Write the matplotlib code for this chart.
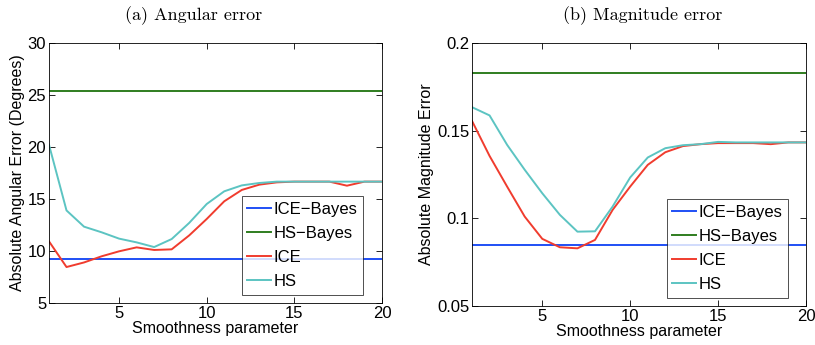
import numpy as np
import matplotlib
matplotlib.use('Agg')
import matplotlib.pyplot as plt

plt.rcParams['font.family'] = ['Liberation Sans', 'DejaVu Sans']
plt.rcParams['font.size'] = 12

smooth = list(range(1, 21))

# (a) angular error
ang_ice_bayes = 9.2
ang_hs_bayes = 25.42
ang_ice = [10.93, 8.46, 8.9, 9.49, 9.97, 10.35, 10.1, 10.16, 11.5, 13.08,
           14.78, 15.87, 16.38, 16.6, 16.67, 16.67, 16.67, 16.28, 16.67, 16.67]
ang_hs = [20.22, 13.9, 12.34, 11.8, 11.19, 10.83, 10.38, 11.15, 12.7, 14.52,
          15.74, 16.31, 16.54, 16.67, 16.67, 16.67, 16.67, 16.67, 16.67, 16.67]

# (b) magnitude error
mag_ice_bayes = 0.0846
mag_hs_bayes = 0.1831
mag_ice = [0.1556, 0.1356, 0.1181, 0.101, 0.0883, 0.0835, 0.0829, 0.0877, 0.1048, 0.1181,
           0.1305, 0.1377, 0.1412, 0.1423, 0.1429, 0.1429, 0.1429, 0.1423, 0.1433, 0.1433]
mag_hs = [0.1634, 0.1587, 0.1419, 0.1277, 0.1143, 0.102, 0.0924, 0.0926, 0.1067, 0.1233,
          0.1347, 0.14, 0.1417, 0.1423, 0.1436, 0.1433, 0.1433, 0.1433, 0.1433, 0.1433]

c_ice_bayes = '#1f4ff5'
c_hs_bayes = '#2f7d1f'
c_ice = '#f03c2e'
c_hs = '#5cc4c2'

fig = plt.figure(figsize=(8.15, 3.45), dpi=100)
ax1 = fig.add_axes([0.0601, 0.1217, 0.4086, 0.7537])
ax2 = fig.add_axes([0.5791, 0.1130, 0.4098, 0.7624])


def draw(ax, ice_b, hs_b, ice, hs, ylim, yticks, yticklabels, ylabel, anchor):
    ax.plot(smooth, [ice_b] * len(smooth), color=c_ice_bayes, lw=1.4, label='ICE\u2212Bayes')
    ax.plot(smooth, [hs_b] * len(smooth), color=c_hs_bayes, lw=1.4, label='HS\u2212Bayes')
    ax.plot(smooth, ice, color=c_ice, lw=1.4, label='ICE')
    ax.plot(smooth, hs, color=c_hs, lw=1.4, label='HS')
    ax.set_xlim(1, 20)
    ax.set_ylim(*ylim)
    ax.set_xticks([5, 10, 15, 20])
    ax.set_yticks(yticks)
    ax.set_yticklabels(yticklabels)
    ax.tick_params(direction='in', top=True, right=True, length=4, width=0.6,
                   labelsize=12, pad=2)
    for s in ax.spines.values():
        s.set_linewidth(0.6)
    ax.set_xlabel('Smoothness parameter', fontsize=11.5, labelpad=0.5)
    ax.set_ylabel(ylabel, fontsize=11.5, labelpad=2)
    leg = ax.legend(loc='lower right', bbox_to_anchor=anchor, fancybox=False,
                    edgecolor='black', borderaxespad=0, handlelength=1.4,
                    labelspacing=0.55, fontsize=12, borderpad=0.35,
                    handletextpad=0.15)
    leg.get_frame().set_linewidth(0.6)


draw(ax1, ang_ice_bayes, ang_hs_bayes, ang_ice, ang_hs, (5, 30),
     [5, 10, 15, 20, 25, 30], ['5', '10', '15', '20', '25', '30'],
     'Absolute Angular Error (Degrees)', (0.943, 0.031))
draw(ax2, mag_ice_bayes, mag_hs_bayes, mag_ice, mag_hs, (0.05, 0.2),
     [0.05, 0.1, 0.15, 0.2], ['0.05', '0.1', '0.15', '0.2'],
     'Absolute Magnitude Error', (0.946, 0.030))

fig.text(0.238, 0.955, '(a) Angular error', ha='center', va='center',
         family='cmr10', fontsize=13)
fig.text(0.789, 0.955, '(b) Magnitude error', ha='center', va='center',
         family='cmr10', fontsize=13)

fig.savefig('out.png', dpi=100)
